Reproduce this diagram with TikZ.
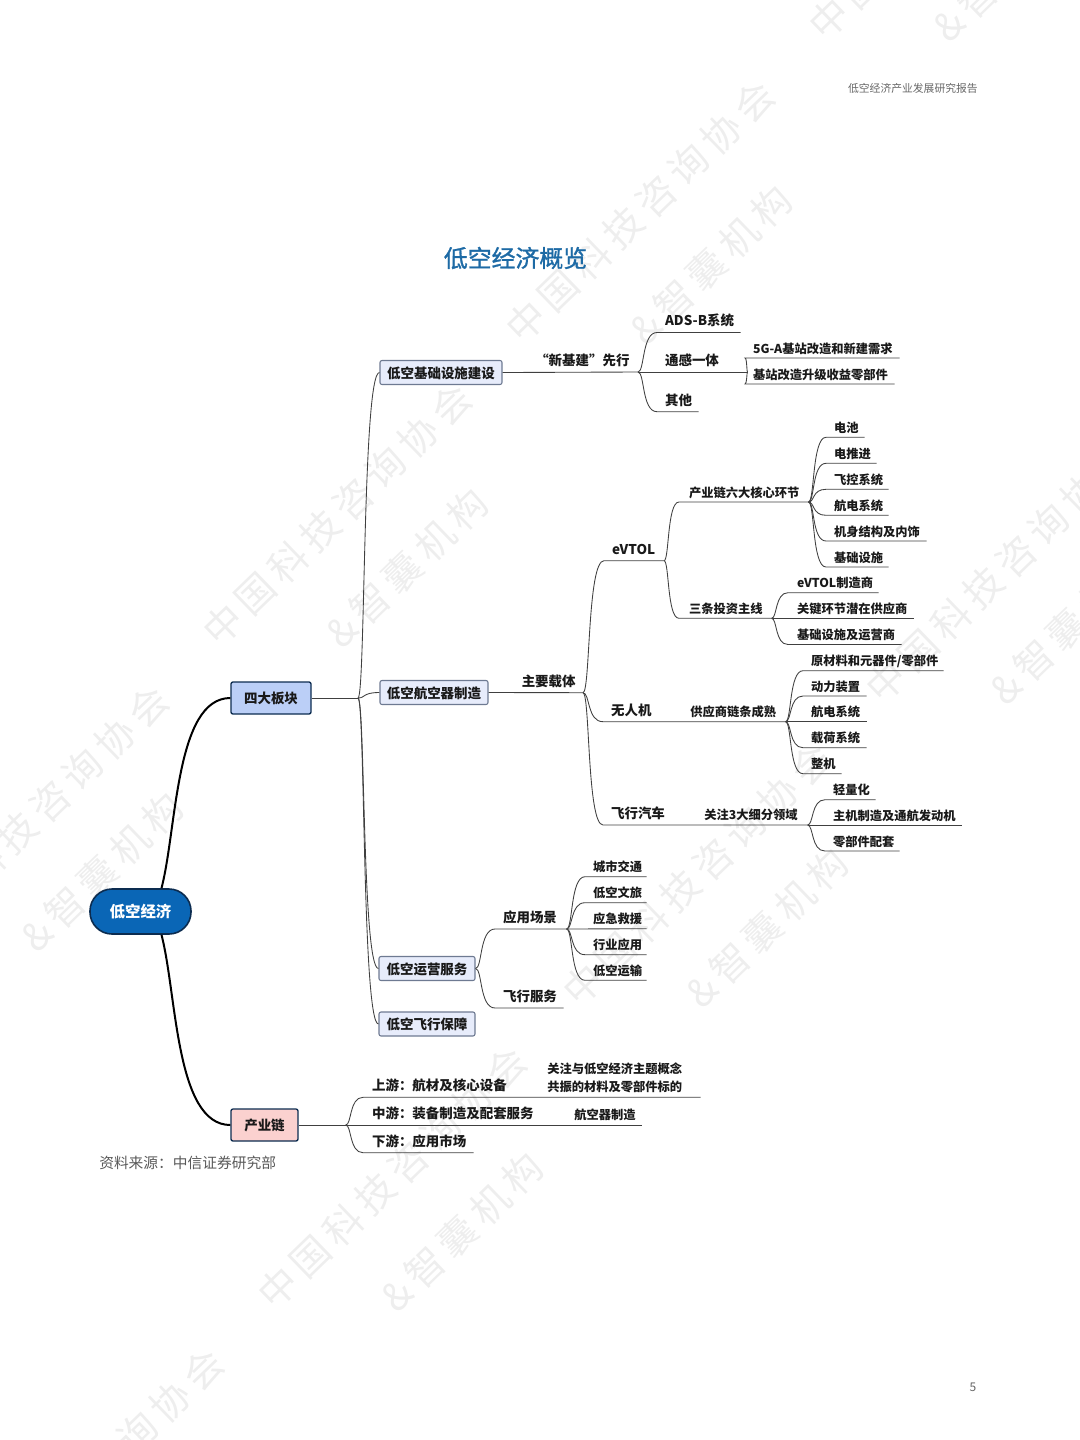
\documentclass[tikz,border=0pt]{standalone}
\usepackage{fontspec}
\setmainfont{Noto Sans CJK SC}
\newfontfamily\titlefont{Noto Sans CJK SC}[FakeBold=1.2]
\usepackage{xcolor}
\usetikzlibrary{calc}
\definecolor{pillblue}{HTML}{0A66B6}
\definecolor{pilledge}{HTML}{0C2C50}
\definecolor{bladeblue}{HTML}{BBCFF7}
\definecolor{chainpink}{HTML}{FBD1CF}
\definecolor{sectorfill}{HTML}{E7ECFB}
\definecolor{sectoredge}{HTML}{6E7A92}
\definecolor{titleblue}{HTML}{1D6AA5}
\definecolor{wmgray}{HTML}{EEEEEE}
\newdimen\pxu
\pxu=0.75pt
\begin{document}
\begin{tikzpicture}[x=0.75pt,y=-0.75pt]
\tikzstyle{wm} = [wmgray, rotate=44, font=\fontsize{29}{32}\selectfont\addfontfeature{LetterSpace=17}]
\tikzstyle{big} = [font=\bfseries\fontsize{10.1}{12}\selectfont, text=black!90]
\tikzstyle{small} = [font=\bfseries\fontsize{9.2}{11}\selectfont, text=black!90]
\tikzstyle{leaf} = [big, anchor=south west, inner xsep=0pt, inner ysep=4.8pt, text depth=0pt, align=left, text width=#1\pxu, execute at begin node={\hspace*{7.8\pxu}}]
\tikzstyle{subleaf} = [small, anchor=south west, inner xsep=0pt, inner ysep=3.5pt, text depth=0pt, align=left, text width=#1\pxu, execute at begin node={\hspace*{7.8\pxu}}]
\tikzstyle{sector} = [big, rectangle, draw=sectoredge, fill=sectorfill, rounded corners=2\pxu, line width=0.8pt, minimum height=24\pxu, inner xsep=0pt, inner ysep=0pt, text height=0.95em, text depth=0.1em]
\tikzstyle{major} = [big, rectangle, draw=pilledge, rounded corners=2\pxu, line width=1pt, minimum height=32\pxu, inner xsep=0pt, inner ysep=0pt, text height=0.95em, text depth=0.1em]
\tikzstyle{twig} = [draw=black!75, line width=0.65pt]
\tikzstyle{trunk} = [draw=black, line width=1.5pt]
\tikzstyle{sbend} = [to path={let \p1=(\tikztostart), \p2=(\tikztotarget), \n1={(\x2-\x1)*0.35}, \n2={(\x2-\x1)*0.8} in .. controls (\x1+\n1,\y1) and (\x2-\n2,\y2) .. (\tikztotarget)}]
\useasboundingbox (0,0) rectangle (1080,1440);

\node[wm] (wa1) at (337,515) {中国科技咨询协会};
\node[wm] (wa2) at (640,212) {中国科技咨询协会};
\node[wm] (wa3) at (943,-91) {中国科技咨询协会};
\node[wm] (wa4) at (34,817) {中国科技咨询协会};
\node[wm] (wa5) at (697,875) {中国科技咨询协会};
\node[wm] (wa6) at (1000,572) {中国科技咨询协会};
\node[wm] (wa7) at (392,1178) {中国科技咨询协会};
\node[wm] (wa8) at (89,1480) {中国科技咨询协会};
\node[wm] (wb1) at (407,568) {\&智囊机构};
\node[wm] (wb2) at (711,265) {\&智囊机构};
\node[wm] (wb3) at (1014,-38) {\&智囊机构};
\node[wm] (wb4) at (102,872) {\&智囊机构};
\node[wm] (wb5) at (767,928) {\&智囊机构};
\node[wm] (wb6) at (1071,625) {\&智囊机构};
\node[wm] (wb7) at (462,1232) {\&智囊机构};

\node[anchor=east, inner xsep=0pt, text=black!60, font=\fontsize{8.1}{10}\selectfont] (header) at (978,88) {低空经济产业发展研究报告};
\node[text=titleblue, font=\fontsize{17.9}{20}\selectfont\titlefont] (title) at (515.5,258) {低空经济概览};
\node[text=black!60, font=\fontsize{9}{11}\selectfont] (pageno) at (973,1387.5) {5};
\node[anchor=west, inner xsep=0pt, text=black!65, font=\fontsize{11.05}{13}\selectfont] (source) at (99,1163) {资料来源：中信证券研究部};

\node[rectangle, draw=pilledge, fill=pillblue, line width=1.2pt, rounded corners=22\pxu, minimum width=101\pxu, minimum height=45\pxu, inner sep=0pt, text=white, font=\bfseries\fontsize{11.6}{14}\selectfont, text height=1.05em, text depth=0.1em] (pill) at (140.5,911.5) {低空经济};
\node[major, fill=bladeblue, minimum width=80\pxu] (blade) at (271,698) {四大板块};
\node[major, fill=chainpink, minimum width=67\pxu] (chain) at (264.5,1125) {产业链};
\draw[trunk] (pill.48) .. controls +(15.5,-59) and +(-55,0) .. (blade.west);
\draw[trunk] (pill.-48) .. controls +(15.5,59) and +(-55,0) .. (chain.west);

\coordinate (bladehub) at (358,698);
\node[sector, minimum width=122\pxu] (infra) at (441,372.5) {低空基础设施建设};
\node[sector, minimum width=108\pxu] (craft) at (434,692.5) {低空航空器制造};
\node[sector, minimum width=96\pxu] (oper) at (427,968.5) {低空运营服务};
\node[sector, minimum width=96\pxu] (guard) at (427,1024) {低空飞行保障};
\draw[twig] (blade.east) -- (bladehub);
\draw[twig] (bladehub) to[sbend] (infra.west);
\draw[twig] (bladehub) to[sbend] (craft.west);
\draw[twig] (bladehub) to[sbend] (oper.west);
\draw[twig] (bladehub) to[sbend] (guard.west);

\coordinate (infrahub) at (638,372);
\node[big, anchor=west, inner xsep=0pt] (newbuild) at (535,360.8) {“新基建”先行};
\draw[twig] (infra.east) -- (infrahub);
\node[leaf=83] (adsb) at (657,332.5) {ADS-B系统};
\node[leaf=90] (sense) at (657,372) {通感一体};
\node[leaf=41] (other) at (657,411.7) {其他};
\draw[twig] (infrahub) to[sbend] (adsb.south west) -- (adsb.south east);
\draw[twig] (infrahub) -- (sense.south east);
\draw[twig] (infrahub) to[sbend] (other.south west) -- (other.south east);
\coordinate (sensehub) at (sense.south east);
\node[subleaf=154] (fivega) at (745,358) {5G-A基站改造和新建需求};
\node[subleaf=149] (upgrade) at (745,384) {基站改造升级收益零部件};
\draw[twig] (sensehub) to[sbend] (fivega.south west) -- (fivega.south east);
\draw[twig] (sensehub) to[sbend] (upgrade.south west) -- (upgrade.south east);

\coordinate (crafthub) at (583,692.7);
\node[big, anchor=west, inner xsep=0pt] (carrier) at (521.5,681.5) {主要载体};
\draw[twig] (craft.east) -- (crafthub);
\node[leaf=59.5] (evtol) at (604,560.7) {eVTOL};
\node[leaf=182] (drone) at (603,721.7) {无人机};
\node[leaf=204] (flycar) at (603,825) {飞行汽车};
\draw[twig] (crafthub) to[sbend] (evtol.south west) -- (evtol.south east);
\draw[twig] (crafthub) to[sbend] (drone.south west) -- (drone.south east);
\draw[twig] (crafthub) to[sbend] (flycar.south west) -- (flycar.south east);

\node[subleaf=129] (six) at (679,502) {\hspace*{2\pxu}产业链六大核心环节};
\node[subleaf=92] (three) at (679,618.3) {\hspace*{2\pxu}三条投资主线};
\draw[twig] (evtol.south east) to[sbend] (six.south west) -- (six.south east);
\draw[twig] (evtol.south east) to[sbend] (three.south west) -- (three.south east);

\node[subleaf=38] (battery) at (826,437.3) {电池};
\node[subleaf=50] (thrust) at (826,463.3) {电推进};
\node[subleaf=62] (flight) at (826,489.3) {飞控系统};
\node[subleaf=62] (avionics) at (826,515.3) {航电系统};
\node[subleaf=100] (frame) at (826,541) {机身结构及内饰};
\node[subleaf=62] (base) at (826,567) {基础设施};
\draw[twig] (six.south east) to[sbend] (battery.south west) -- (battery.south east);
\draw[twig] (six.south east) to[sbend] (thrust.south west) -- (thrust.south east);
\draw[twig] (six.south east) to[sbend] (flight.south west) -- (flight.south east);
\draw[twig] (six.south east) to[sbend] (avionics.south west) -- (avionics.south east);
\draw[twig] (six.south east) to[sbend] (frame.south west) -- (frame.south east);
\draw[twig] (six.south east) to[sbend] (base.south west) -- (base.south east);

\node[subleaf=90] (maker) at (788,592.7) {\hspace*{1\pxu}eVTOL制造商};
\node[subleaf=125] (supplier) at (788,618.3) {\hspace*{1\pxu}关键环节潜在供应商};
\node[subleaf=113] (operator) at (788,644.5) {\hspace*{1\pxu}基础设施及运营商};
\draw[twig] (three.south east) to[sbend] (maker.south west) -- (maker.south east);
\draw[twig] (three.south east) -- (supplier.south east);
\draw[twig] (three.south east) to[sbend] (operator.south west) -- (operator.south east);

\node[small, anchor=west, inner xsep=0pt] (chainripe) at (690,711.8) {供应商链条成熟};
\node[subleaf=140] (material) at (803,670.7) {原材料和元器件/零部件};
\node[subleaf=63] (power) at (803,696) {动力装置};
\node[subleaf=63] (avion) at (803,721.7) {航电系统};
\node[subleaf=63] (payload) at (803,747.7) {载荷系统};
\node[subleaf=38] (whole) at (803,773.7) {整机};
\draw[twig] (drone.south east) to[sbend] (material.south west) -- (material.south east);
\draw[twig] (drone.south east) to[sbend] (power.south west) -- (power.south east);
\draw[twig] (drone.south east) -- (avion.south east);
\draw[twig] (drone.south east) to[sbend] (payload.south west) -- (payload.south east);
\draw[twig] (drone.south east) to[sbend] (whole.south west) -- (whole.south east);

\node[small, anchor=west, inner xsep=0pt] (three fields) at (704,814.8) {关注3大细分领域};
\node[subleaf=50] (light) at (825,799.7) {轻量化};
\node[subleaf=136] (engine) at (825,825) {主机制造及通航发动机};
\node[subleaf=74] (parts) at (825,851) {零部件配套};
\draw[twig] (flycar.south east) to[sbend] (light.south west) -- (light.south east);
\draw[twig] (flycar.south east) -- (engine.south east);
\draw[twig] (flycar.south east) to[sbend] (parts.south west) -- (parts.south east);

\node[leaf=71] (scene) at (495,929) {应用场景};
\node[leaf=68] (service) at (495,1008) {飞行服务};
\draw[twig] (oper.east) to[sbend] (scene.south west) -- (scene.south east);
\draw[twig] (oper.east) to[sbend] (service.south west) -- (service.south east);
\node[subleaf=61] (city) at (585,876.7) {城市交通};
\node[subleaf=61] (tour) at (585,902.7) {低空文旅};
\node[subleaf=61] (rescue) at (585,928.7) {应急救援};
\node[subleaf=61] (industry) at (585,954.7) {行业应用};
\node[subleaf=61] (freight) at (585,980.3) {低空运输};
\draw[twig] (scene.south east) to[sbend] (city.south west) -- (city.south east);
\draw[twig] (scene.south east) to[sbend] (tour.south west) -- (tour.south east);
\draw[twig] (scene.south east) -- (rescue.south east);
\draw[twig] (scene.south east) to[sbend] (industry.south west) -- (industry.south east);
\draw[twig] (scene.south east) to[sbend] (freight.south west) -- (freight.south east);

\coordinate (chainhub) at (345.7,1125);
\draw[twig] (chain.east) -- (chainhub);
\node[leaf=337] (up) at (363,1097.3) {\hspace*{1\pxu}上游：航材及核心设备};
\node[leaf=278] (mid) at (363,1125) {\hspace*{1\pxu}中游：装备制造及配套服务};
\node[leaf=110] (down) at (363,1152.7) {\hspace*{1\pxu}下游：应用市场};
\draw[twig] (chainhub) to[sbend] (up.south west) -- (up.south east);
\draw[twig] (chainhub) -- (mid.south east);
\draw[twig] (chainhub) to[sbend] (down.south west) -- (down.south east);
\node[small, anchor=south west, inner xsep=0pt, inner ysep=3pt, align=left, font=\bfseries\fontsize{9.2}{13.5}\selectfont] (focus) at (547,1097.3) {关注与低空经济主题概念\\共振的材料及零部件标的};
\node[small, anchor=west, inner xsep=0pt] (aircraft) at (574,1114.8) {航空器制造};
\end{tikzpicture}
\end{document}
